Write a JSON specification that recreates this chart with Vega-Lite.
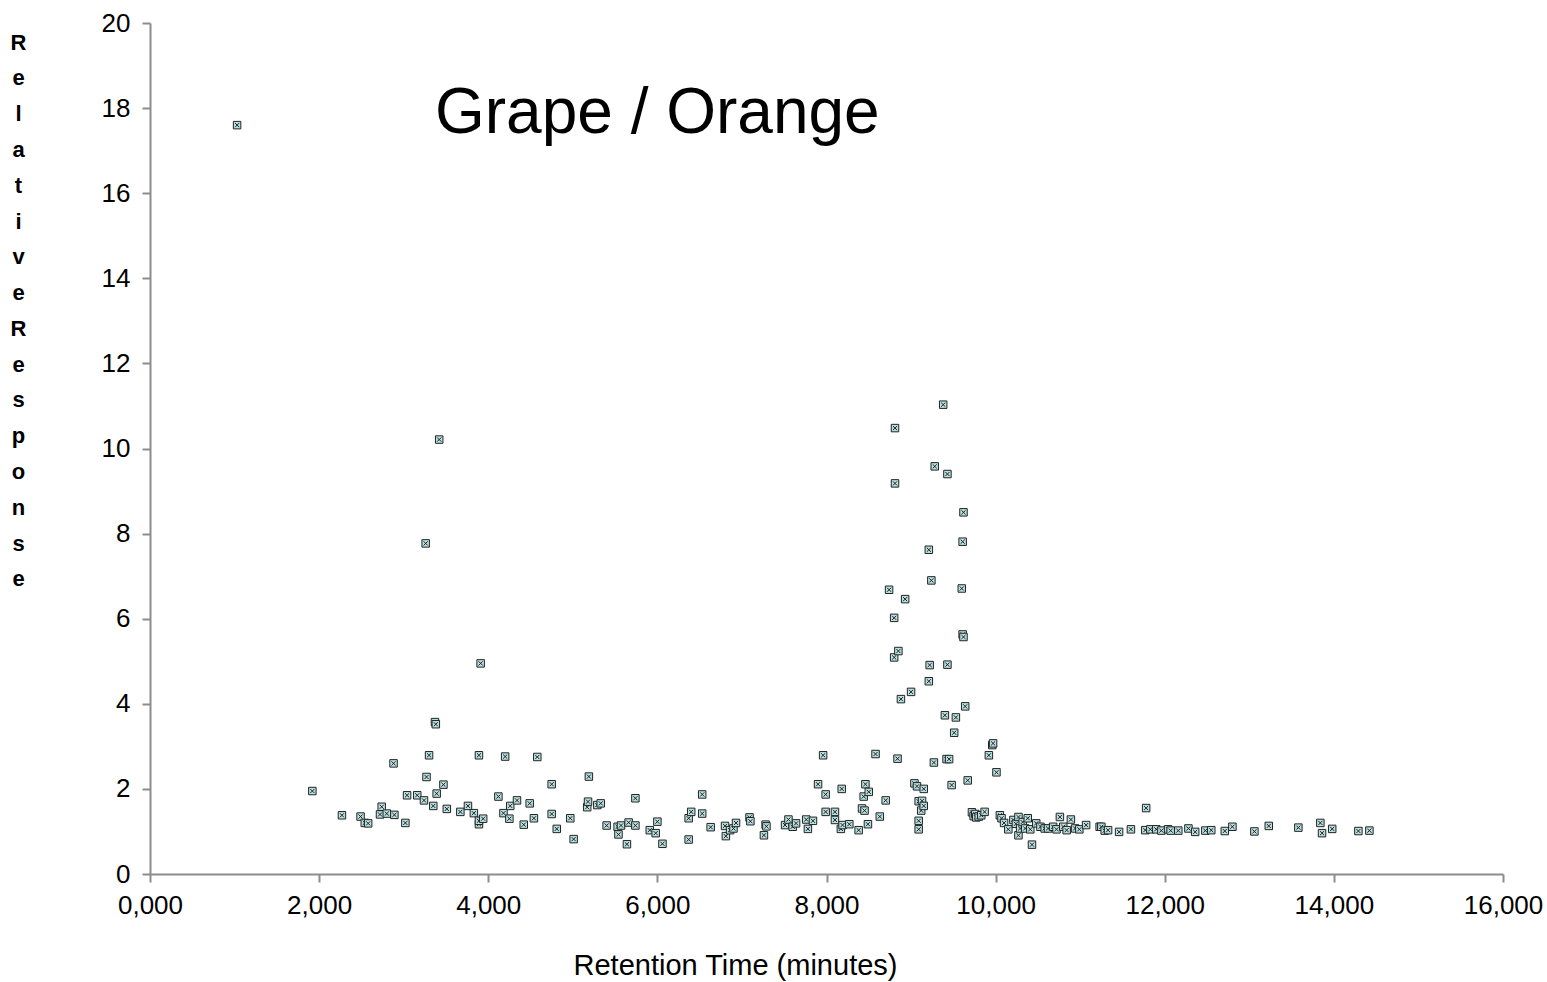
{
  "$schema": "https://vega.github.io/schema/vega-lite/v6.json",
  "width": 1353,
  "height": 851,
  "autosize": {"type": "none"},
  "padding": {"left": 150, "top": 23, "right": 44, "bottom": 108},
  "background": "white",
  "title": {
    "text": "Grape / Orange",
    "anchor": "start",
    "frame": "group",
    "orient": "top",
    "baseline": "alphabetic",
    "dx": 285,
    "dy": 187,
    "offset": 0,
    "font": "Liberation Sans",
    "fontSize": 64,
    "fontWeight": "normal",
    "color": "black"
  },
  "config": {
    "view": {"stroke": null},
    "axis": {
      "grid": false,
      "domainColor": "#8c8c8c",
      "domainWidth": 2,
      "tickColor": "#8c8c8c",
      "tickWidth": 2,
      "tickSize": 8,
      "labelFont": "Liberation Sans",
      "labelFontSize": 26,
      "labelColor": "black",
      "labelFlush": false,
      "labelOverlap": false,
      "titleColor": "black",
      "titleFont": "Liberation Sans"
    }
  },
  "data": {
    "values": [
      {"t":1.03,"r":17.6},{"t":1.92,"r":1.95},{"t":2.27,"r":1.38},{"t":2.49,"r":1.35},{"t":2.54,"r":1.2},{"t":2.58,"r":1.19},{"t":2.72,"r":1.4},{"t":2.74,"r":1.58},{"t":2.8,"r":1.42},{"t":2.88,"r":2.6},{"t":2.89,"r":1.39},{"t":3.02,"r":1.2},{"t":3.04,"r":1.85},{"t":3.16,"r":1.85},{"t":3.24,"r":1.73},{"t":3.26,"r":7.77},{"t":3.27,"r":2.28},{"t":3.3,"r":2.79},{"t":3.35,"r":1.6},{"t":3.37,"r":3.57},{"t":3.38,"r":3.52},{"t":3.39,"r":1.89},{"t":3.42,"r":10.21},{"t":3.47,"r":2.1},{"t":3.51,"r":1.53},{"t":3.67,"r":1.46},{"t":3.76,"r":1.6},{"t":3.83,"r":1.43},{"t":3.89,"r":2.79},{"t":3.89,"r":1.17},{"t":3.89,"r":1.25},{"t":3.91,"r":4.95},{"t":3.94,"r":1.3},{"t":4.12,"r":1.82},{"t":4.18,"r":1.43},{"t":4.2,"r":2.76},{"t":4.25,"r":1.3},{"t":4.26,"r":1.6},{"t":4.34,"r":1.73},{"t":4.42,"r":1.16},{"t":4.49,"r":1.66},{"t":4.54,"r":1.31},{"t":4.58,"r":2.75},{"t":4.75,"r":2.11},{"t":4.75,"r":1.41},{"t":4.81,"r":1.06},{"t":4.97,"r":1.31},{"t":5.01,"r":0.82},{"t":5.17,"r":1.57},{"t":5.18,"r":1.7},{"t":5.19,"r":2.29},{"t":5.29,"r":1.62},{"t":5.33,"r":1.66},{"t":5.4,"r":1.14},{"t":5.53,"r":1.11},{"t":5.54,"r":0.93},{"t":5.57,"r":1.14},{"t":5.64,"r":0.7},{"t":5.66,"r":1.21},{"t":5.74,"r":1.14},{"t":5.74,"r":1.78},{"t":5.91,"r":1.03},{"t":5.98,"r":0.96},{"t":6.0,"r":1.23},{"t":6.06,"r":0.71},{"t":6.37,"r":0.81},{"t":6.37,"r":1.31},{"t":6.4,"r":1.46},{"t":6.53,"r":1.87},{"t":6.53,"r":1.42},{"t":6.63,"r":1.1},{"t":6.8,"r":1.13},{"t":6.81,"r":0.89},{"t":6.86,"r":1.03},{"t":6.9,"r":1.07},{"t":6.93,"r":1.2},{"t":7.09,"r":1.33},{"t":7.1,"r":1.24},{"t":7.26,"r":0.91},{"t":7.28,"r":1.16},{"t":7.29,"r":1.12},{"t":7.51,"r":1.15},{"t":7.55,"r":1.28},{"t":7.6,"r":1.11},{"t":7.64,"r":1.19},{"t":7.76,"r":1.28},{"t":7.78,"r":1.06},{"t":7.84,"r":1.25},{"t":7.9,"r":2.11},{"t":7.96,"r":2.79},{"t":7.99,"r":1.87},{"t":7.99,"r":1.46},{"t":8.1,"r":1.46},{"t":8.1,"r":1.27},{"t":8.17,"r":1.06},{"t":8.18,"r":2.0},{"t":8.19,"r":1.15},{"t":8.27,"r":1.17},{"t":8.38,"r":1.03},{"t":8.42,"r":1.54},{"t":8.44,"r":1.82},{"t":8.45,"r":1.49},{"t":8.46,"r":2.11},{"t":8.49,"r":1.17},{"t":8.5,"r":1.93},{"t":8.58,"r":2.82},{"t":8.63,"r":1.35},{"t":8.7,"r":1.73},{"t":8.74,"r":6.68},{"t":8.8,"r":6.02},{"t":8.8,"r":5.09},{"t":8.81,"r":10.48},{"t":8.81,"r":9.18},{"t":8.84,"r":2.71},{"t":8.85,"r":5.24},{"t":8.88,"r":4.11},{"t":8.93,"r":6.46},{"t":9.0,"r":4.28},{"t":9.04,"r":2.13},{"t":9.07,"r":2.06},{"t":9.09,"r":1.71},{"t":9.09,"r":1.25},{"t":9.09,"r":1.05},{"t":9.12,"r":1.49},{"t":9.13,"r":1.72},{"t":9.15,"r":1.6},{"t":9.15,"r":2.0},{"t":9.21,"r":7.62},{"t":9.21,"r":4.53},{"t":9.22,"r":4.91},{"t":9.24,"r":6.9},{"t":9.27,"r":2.62},{"t":9.28,"r":9.58},{"t":9.38,"r":11.03},{"t":9.4,"r":3.73},{"t":9.42,"r":2.7},{"t":9.43,"r":9.4},{"t":9.43,"r":4.92},{"t":9.45,"r":2.7},{"t":9.48,"r":2.09},{"t":9.51,"r":3.32},{"t":9.53,"r":3.68},{"t":9.6,"r":6.71},{"t":9.61,"r":7.81},{"t":9.61,"r":5.63},{"t":9.62,"r":8.5},{"t":9.62,"r":5.57},{"t":9.64,"r":3.94},{"t":9.67,"r":2.2},{"t":9.72,"r":1.45},{"t":9.74,"r":1.36},{"t":9.76,"r":1.41},{"t":9.77,"r":1.33},{"t":9.8,"r":1.35},{"t":9.83,"r":1.38},{"t":9.87,"r":1.46},{"t":9.92,"r":2.79},{"t":9.96,"r":3.03},{"t":9.97,"r":3.07},{"t":10.01,"r":2.39},{"t":10.05,"r":1.38},{"t":10.07,"r":1.31},{"t":10.1,"r":1.2},{"t":10.15,"r":1.05},{"t":10.21,"r":1.27},{"t":10.24,"r":1.18},{"t":10.27,"r":1.34},{"t":10.27,"r":0.91},{"t":10.29,"r":1.07},{"t":10.32,"r":1.22},{"t":10.35,"r":1.07},{"t":10.38,"r":1.31},{"t":10.41,"r":1.05},{"t":10.43,"r":0.69},{"t":10.48,"r":1.19},{"t":10.53,"r":1.11},{"t":10.58,"r":1.07},{"t":10.62,"r":1.07},{"t":10.68,"r":1.11},{"t":10.72,"r":1.05},{"t":10.76,"r":1.34},{"t":10.8,"r":1.11},{"t":10.84,"r":1.03},{"t":10.89,"r":1.28},{"t":10.94,"r":1.07},{"t":10.99,"r":1.05},{"t":11.07,"r":1.15},{"t":11.23,"r":1.11},{"t":11.25,"r":1.11},{"t":11.29,"r":1.02},{"t":11.33,"r":1.03},{"t":11.46,"r":0.99},{"t":11.6,"r":1.05},{"t":11.77,"r":1.03},{"t":11.78,"r":1.55},{"t":11.83,"r":1.05},{"t":11.9,"r":1.05},{"t":11.96,"r":1.02},{"t":12.04,"r":1.05},{"t":12.07,"r":1.02},{"t":12.16,"r":1.02},{"t":12.28,"r":1.07},{"t":12.36,"r":0.99},{"t":12.48,"r":1.02},{"t":12.55,"r":1.03},{"t":12.71,"r":1.01},{"t":12.8,"r":1.11},{"t":13.06,"r":1.0},{"t":13.23,"r":1.13},{"t":13.58,"r":1.09},{"t":13.84,"r":1.2},{"t":13.86,"r":0.96},{"t":13.98,"r":1.06},{"t":14.29,"r":1.01},{"t":14.42,"r":1.02}
    ]
  },
  "mark": {
    "type": "point",
    "shape": "M-1,-1H1V1H-1Z M-0.55,-0.55L0.55,0.55 M0.55,-0.55L-0.55,0.55",
    "filled": true,
    "fill": "#b8e0e0",
    "stroke": "#222222",
    "strokeWidth": 1,
    "size": 56,
    "opacity": 1
  },
  "encoding": {
    "x": {
      "field": "t",
      "type": "quantitative",
      "scale": {"domain": [0, 16], "nice": false, "zero": true},
      "axis": {
        "values": [0, 2, 4, 6, 8, 10, 12, 14, 16],
        "labelExpr": "replace(format(datum.value, '.3f'), '.', ',')",
        "labelPadding": 10,
        "title": "Retention Time (minutes)",
        "titleFontSize": 29,
        "titleFontWeight": "normal",
        "titleAnchor": null,
        "titleAlign": "center",
        "titleBaseline": "alphabetic",
        "titleX": 585,
        "titleY": 100
      }
    },
    "y": {
      "field": "r",
      "type": "quantitative",
      "scale": {"domain": [0, 20], "nice": false},
      "axis": {
        "values": [0, 2, 4, 6, 8, 10, 12, 14, 16, 18, 20],
        "labelPadding": 12,
        "title": ["R","e","l","a","t","i","v","e","R","e","s","p","o","n","s","e"],
        "titleAngle": 0,
        "titleFontSize": 22,
        "titleFontWeight": "bold",
        "titleLineHeight": 35.8,
        "titleAnchor": null,
        "titleAlign": "center",
        "titleBaseline": "alphabetic",
        "titleX": -132,
        "titleY": 26
      }
    }
  }
}
